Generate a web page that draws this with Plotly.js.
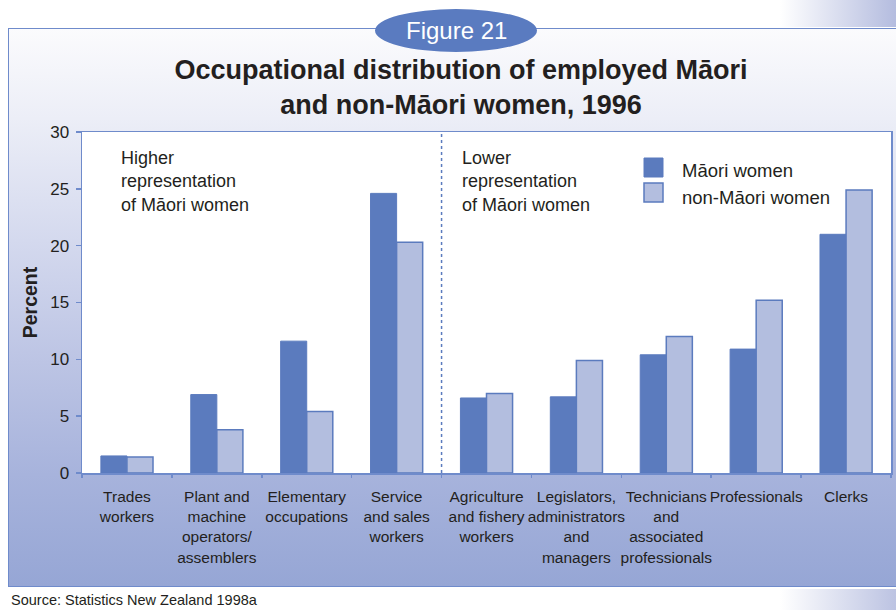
<!DOCTYPE html>
<html>
<head>
<meta charset="utf-8">
<script src="https://cdn.plot.ly/plotly-3.0.1.min.js"></script>
<style>
  html, body { margin: 0; padding: 0; background: #ffffff; }
  #wrap { position: relative; width: 896px; height: 610px; overflow: hidden; background: #ffffff; }
  #panel {
    position: absolute; left: 8px; top: 28px; width: 900px; height: 557px;
    border: 1.5px solid #6f8bcb;
    background: linear-gradient(to bottom, #fbfbfd 0%, #eceef7 16%, #d4d9ee 38%, #bcc4e4 60%, #a7b3dc 80%, #96a6d5 100%);
  }
  #deco1 { position: absolute; left: 780px; top: 0; width: 116px; height: 27px;
    background: linear-gradient(to right, rgba(255,255,255,0), #b4bcdf); }
  #deco2 { position: absolute; left: 780px; top: 589px; width: 116px; height: 21px;
    background: linear-gradient(to right, rgba(255,255,255,0), #bcc3e2); }
  #chart { position: absolute; left: 0; top: 0; width: 896px; height: 610px; }
</style>
</head>
<body>
<div id="wrap">
  <div id="deco1"></div>
  <div id="deco2"></div>
  <div id="panel"></div>
  <div id="chart"></div>
</div>
<script>
const categories = [
  "Trades<br>workers",
  "Plant and<br>machine<br>operators/<br>assemblers",
  "Elementary<br>occupations",
  "Service<br>and sales<br>workers",
  "Agriculture<br>and fishery<br>workers",
  "Legislators,<br>administrators<br>and<br>managers",
  "Technicians<br>and<br>associated<br>professionals",
  "Professionals",
  "Clerks"
];
const seriesNames   = ["Māori women", "non-Māori women"];
const maoriWomen    = [1.5, 6.9, 11.6, 24.6, 6.6, 6.7, 10.4, 10.9, 21.0];
const nonMaoriWomen = [1.4, 3.8, 5.4, 20.3, 7.0, 9.9, 12.0, 15.2, 24.9];
const yTicks = [0, 5, 10, 15, 20, 25, 30];

const BLUE = "#5b7bbe";
const LIGHT = "#b3bedf";
const LINE = "#6f8bcb";
const TXT = "#231f20";
const FONT = "Liberation Sans, Arial, sans-serif";

const traces = [
  { type: "bar", name: seriesNames[0], x: categories, y: maoriWomen,
    marker: { color: BLUE, line: { color: BLUE, width: 1 } }, hoverinfo: "y+name" },
  { type: "bar", name: seriesNames[1], x: categories, y: nonMaoriWomen,
    marker: { color: LIGHT, line: { color: BLUE, width: 1.5 } }, hoverinfo: "y+name" }
];

const L = 82, T = 132, PW = 809, PH = 341;
const px = v => (v - L) / PW;
const py = v => (T + PH - v) / PH;

const layout = {
  width: 896, height: 610,
  paper_bgcolor: "rgba(0,0,0,0)",
  plot_bgcolor: "#ffffff",
  margin: { l: L, r: 896 - L - PW, t: T, b: 610 - T - PH, pad: 0 },
  font: { family: FONT, color: TXT, size: 17 },
  title: {
    text: "<b>Occupational distribution of employed Māori<br>and non-Māori women, 1996</b>",
    font: { family: FONT, size: 27, color: TXT },
    x: 461 / 896, xref: "container", xanchor: "center",
    y: 1 - 79 / 610, yref: "container", yanchor: "top"
  },
  barmode: "group",
  bargap: 0.42,
  bargroupgap: 0,
  showlegend: false,
  xaxis: {
    type: "category",
    range: [-0.5, 8.5],
    showline: true, linecolor: LINE, linewidth: 1.5, mirror: true,
    ticks: "outside", ticklen: 3, tickcolor: LINE, tickwidth: 1.5,
    tickson: "boundaries",
    showgrid: false, zeroline: false,
    tickangle: 0,
    ticklabelstandoff: 9,
    tickfont: { family: FONT, size: 15.5, color: TXT }
  },
  yaxis: {
    range: [0, 30],
    tickmode: "array", tickvals: yTicks, ticktext: yTicks.map(String),
    showline: true, linecolor: LINE, linewidth: 1.5, mirror: true,
    ticks: "outside", ticklen: 5, tickcolor: LINE, tickwidth: 1.5,
    showgrid: false, zeroline: false,
    ticklabelstandoff: 3,
    tickfont: { family: FONT, size: 17, color: TXT },
    title: { text: "<b>Percent</b>", font: { family: FONT, size: 19.5, color: TXT }, standoff: 7 }
  },
  shapes: [
    { type: "line", xref: "x", yref: "paper", x0: 3.5, x1: 3.5, y0: 0, y1: 1,
      line: { color: BLUE, width: 1.5, dash: "dot" } },
    { type: "circle", xref: "paper", yref: "paper",
      x0: px(375), x1: px(537), y0: py(52), y1: py(9),
      fillcolor: "#5a7bc0", line: { color: "#5a7bc0", width: 0 } },
    { type: "rect", xref: "paper", yref: "paper",
      x0: px(644), x1: px(663), y0: py(177), y1: py(158),
      fillcolor: BLUE, line: { color: BLUE, width: 1 } },
    { type: "rect", xref: "paper", yref: "paper",
      x0: px(644), x1: px(663), y0: py(202), y1: py(183),
      fillcolor: LIGHT, line: { color: BLUE, width: 1.5 } }
  ],
  annotations: [
    { xref: "paper", yref: "paper", x: px(456), y: py(30), text: "Figure 21",
      showarrow: false, font: { family: FONT, size: 24, color: "#ffffff" },
      xanchor: "center", yanchor: "middle" },
    { xref: "paper", yref: "paper", x: px(680), y: py(170), xanchor: "left", yanchor: "middle",
      showarrow: false, text: seriesNames[0], font: { family: FONT, size: 18.5, color: TXT } },
    { xref: "paper", yref: "paper", x: px(680), y: py(197), xanchor: "left", yanchor: "middle",
      showarrow: false, text: seriesNames[1], font: { family: FONT, size: 18.5, color: TXT } },
    { xref: "paper", yref: "paper", x: px(119), y: py(146), xanchor: "left", yanchor: "top",
      align: "left", showarrow: false, text: "Higher<br>representation<br>of Māori women",
      font: { family: FONT, size: 18, color: TXT } },
    { xref: "paper", yref: "paper", x: px(460), y: py(146), xanchor: "left", yanchor: "top",
      align: "left", showarrow: false, text: "Lower<br>representation<br>of Māori women",
      font: { family: FONT, size: 18, color: TXT } },
    { xref: "paper", yref: "paper", x: px(9), y: py(610), xanchor: "left", yanchor: "bottom",
      align: "left", showarrow: false, text: "Source: Statistics New Zealand 1998a",
      font: { family: FONT, size: 14.5, color: TXT } }
  ]
};

Plotly.newPlot("chart", traces, layout, { displayModeBar: false, staticPlot: true });
</script>
</body>
</html>
